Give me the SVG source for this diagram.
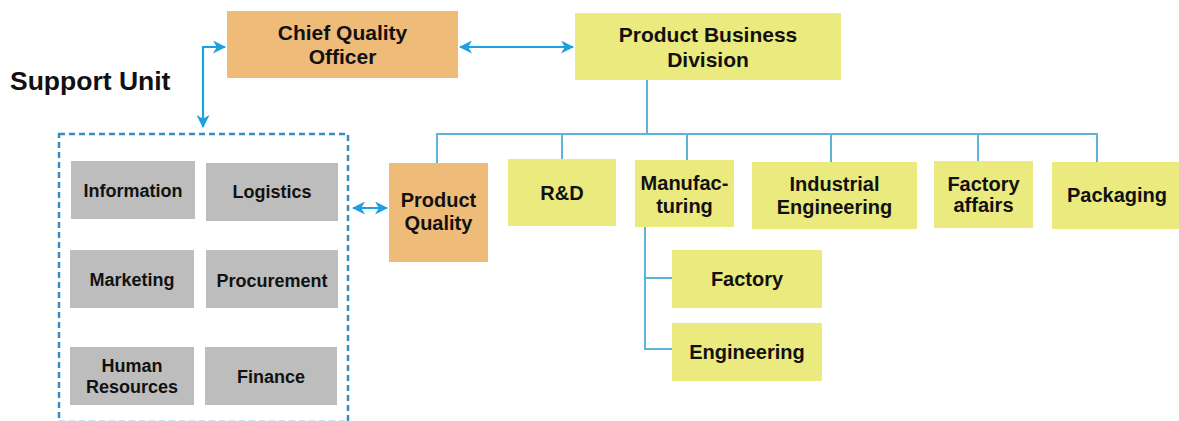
<svg xmlns="http://www.w3.org/2000/svg" width="1179" height="421" viewBox="0 0 1179 421">
<style>
text{font-family:"Liberation Sans",Arial,sans-serif;font-weight:bold;fill:#111;text-anchor:middle}
.y{fill:#eaea7e}
.o{fill:#efbb78}
.g{fill:#bdbdbd}
.t20{font-size:20px}
.t21{font-size:21px}
.t18{font-size:18px}
.bus{fill:none;stroke:#5bb5da;stroke-width:2}
.arr{fill:none;stroke:#1e9fe0;stroke-width:2.2}
.dash{fill:none;stroke:#3a8cc0;stroke-width:2.5;stroke-dasharray:6 4}
</style>
<defs>
<marker id="ah" viewBox="0 0 13 13" refX="12" refY="6.5" markerWidth="13" markerHeight="13" markerUnits="userSpaceOnUse" orient="auto-start-reverse">
<path d="M0,0 L13,6.5 L0,13 L3.8,6.5 z" fill="#1e9fe0"/>
</marker>
</defs>
<rect width="1179" height="421" fill="#fff"/>
<text x="10" y="90" style="font-size:26.5px;text-anchor:start">Support Unit</text>
<g id="connectors">
<path class="bus" d="M647,80 V134 M437,163 V134 H1097 V162 M562,134 V159 M687,134 V160 M831,134 V162 M978,134 V161"/>
<path class="bus" d="M645,227 V349 H672 M645,278 H672"/>
<path class="arr" d="M460,47 H573" marker-start="url(#ah)" marker-end="url(#ah)"/>
<path class="arr" d="M225,47 H203 V127" marker-start="url(#ah)" marker-end="url(#ah)"/>
<path class="arr" d="M353,208 H387" marker-start="url(#ah)" marker-end="url(#ah)"/>
</g>
<g id="support-unit">
<rect class="dash" x="59" y="134" width="289" height="288"/>
</g>
<g id="cqo"><rect class="o" x="227" y="11" width="231" height="67"/><text class="t21" x="342.5" y="40">Chief Quality</text><text class="t21" x="342.5" y="64">Officer</text></g>
<g id="pbd"><rect class="y" x="575" y="13" width="266" height="67"/><text class="t21" x="708" y="42">Product Business</text><text class="t21" x="708" y="67">Division</text></g>
<g id="information"><rect class="g" x="71" y="161" width="124" height="58"/><text class="t18" x="133" y="197">Information</text></g>
<g id="logistics"><rect class="g" x="206" y="163" width="132" height="58"/><text class="t18" x="272" y="198">Logistics</text></g>
<g id="marketing"><rect class="g" x="70" y="250" width="124" height="58"/><text class="t18" x="132" y="286">Marketing</text></g>
<g id="procurement"><rect class="g" x="206" y="250" width="132" height="58"/><text class="t18" x="272" y="287">Procurement</text></g>
<g id="hr"><rect class="g" x="70" y="347" width="124" height="58"/><text class="t18" x="132" y="372">Human</text><text class="t18" x="132" y="393">Resources</text></g>
<g id="finance"><rect class="g" x="205" y="347" width="132" height="58"/><text class="t18" x="271" y="383">Finance</text></g>
<g id="product-quality"><rect class="o" x="389" y="163" width="99" height="99"/><text class="t20" x="438.5" y="207">Product</text><text class="t20" x="438.5" y="230">Quality</text></g>
<g id="rd"><rect class="y" x="508" y="159" width="108" height="67"/><text class="t20" x="562" y="200">R&amp;D</text></g>
<g id="manufacturing"><rect class="y" x="635" y="160" width="99" height="67"/><text class="t20" x="684.5" y="190">Manufac-</text><text class="t20" x="684.5" y="213">turing</text></g>
<g id="industrial-engineering"><rect class="y" x="752" y="162" width="165" height="67"/><text class="t20" x="834.5" y="191">Industrial</text><text class="t20" x="834.5" y="214">Engineering</text></g>
<g id="factory-affairs"><rect class="y" x="934" y="161" width="99" height="67"/><text class="t20" x="983.5" y="191">Factory</text><text class="t20" x="983.5" y="212">affairs</text></g>
<g id="packaging"><rect class="y" x="1052" y="162" width="127" height="67"/><text class="t20" x="1117" y="202">Packaging</text></g>
<g id="factory"><rect class="y" x="672" y="250" width="150" height="58"/><text class="t20" x="747" y="286">Factory</text></g>
<g id="engineering"><rect class="y" x="672" y="323" width="150" height="58"/><text class="t20" x="747" y="359">Engineering</text></g>
</svg>
